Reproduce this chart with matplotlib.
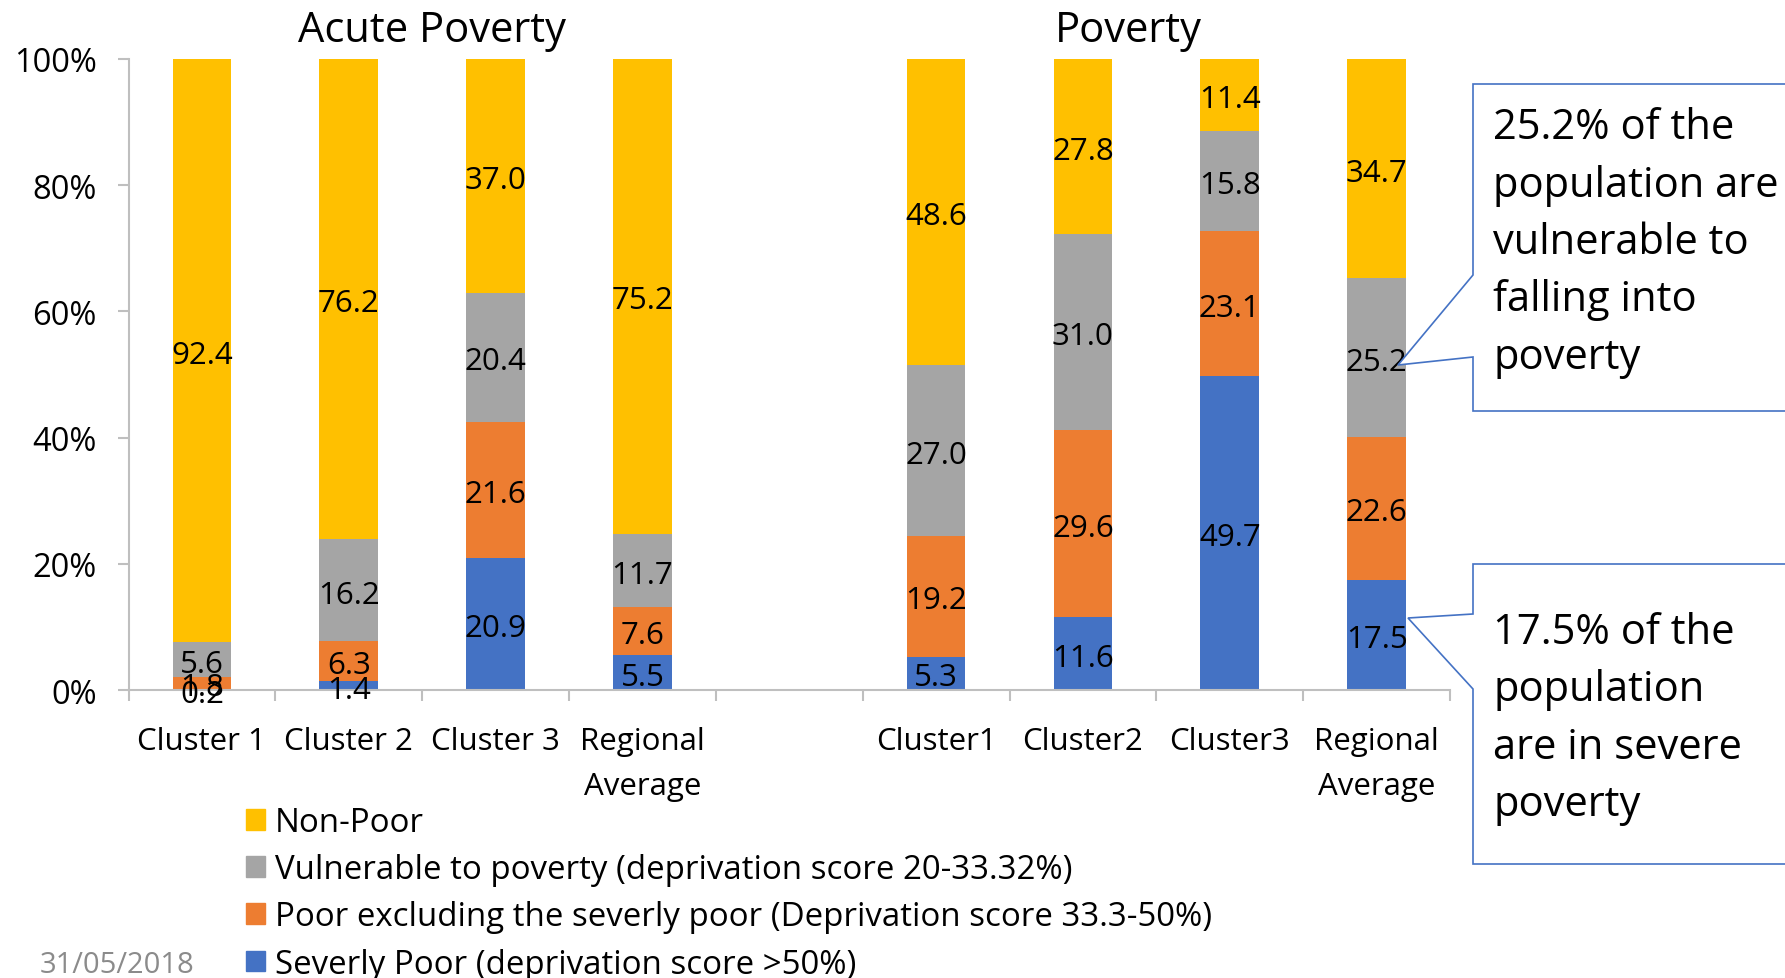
import numpy as np
import matplotlib
matplotlib.use('Agg')
import matplotlib.pyplot as plt
from matplotlib.patches import Patch, Polygon
from matplotlib.ticker import PercentFormatter, FixedLocator

plt.rcParams['font.family'] = ['Open Sans', 'DejaVu Sans']

# data (percent of population)
acute_labels = ['Cluster 1', 'Cluster 2', 'Cluster 3', 'Regional\nAverage']
poverty_labels = ['Cluster1', 'Cluster2', 'Cluster3', 'Regional\nAverage']

severe_acute = [0.2, 1.4, 20.9, 5.5]
poor_acute = [1.8, 6.3, 21.6, 7.6]
vuln_acute = [5.6, 16.2, 20.4, 11.7]
nonpoor_acute = [92.4, 76.2, 37.0, 75.2]

severe_pov = [5.3, 11.6, 49.7, 17.5]
poor_pov = [19.2, 29.6, 23.1, 22.6]
vuln_pov = [27.0, 31.0, 15.8, 25.2]
nonpoor_pov = [48.6, 27.8, 11.4, 34.7]

series_names = ['Severly Poor (deprivation score >50%)',
                'Poor excluding the severly poor (Deprivation score 33.3-50%)',
                'Vulnerable to poverty (deprivation score 20-33.32%)',
                'Non-Poor']
colors = ['#4472C4', '#ED7D31', '#A5A5A5', '#FFC000']

W, H = 1785, 979
fig = plt.figure(figsize=(W / 100, H / 100), dpi=100)
ax = fig.add_axes([128.5 / W, 1 - 691 / H, 1321.5 / W, 631 / H])

# 9 slots: 4 acute, one empty gap, 4 poverty
x_acute = np.arange(4)
x_pov = np.arange(4) + 5
xs = np.concatenate([x_acute, x_pov])
stack = np.array([severe_acute + severe_pov,
                  poor_acute + poor_pov,
                  vuln_acute + vuln_pov,
                  nonpoor_acute + nonpoor_pov])
share = stack / stack.sum(axis=0)

bottom = np.zeros(len(xs))
for i in range(4):
    ax.bar(xs, share[i], 0.4, bottom=bottom, color=colors[i], linewidth=0)
    for x, b, h, v in zip(xs, bottom, share[i], stack[i]):
        ax.annotate(f'{v:.1f}', (x, b + h / 2), xytext=(0, -3),
                    textcoords='offset points', ha='center', va='center',
                    fontsize=22.5, color='black')
    bottom += share[i]

ax.set_xlim(-0.5, 8.5)
ax.set_ylim(0, 1)
ax.yaxis.set_major_formatter(PercentFormatter(1.0, decimals=0))
ax.set_yticks(np.linspace(0, 1, 6))
ax.set_xticks(xs)
ax.set_xticklabels(acute_labels + poverty_labels, linespacing=1.65)
ax.xaxis.set_minor_locator(FixedLocator(np.arange(-0.5, 9, 1)))
ax.tick_params(axis='x', which='major', length=0, pad=26, labelsize=22.5)
ax.tick_params(axis='x', which='minor', length=8, width=1.5, color='#BFBFBF',
               direction='out')
ax.tick_params(axis='y', length=8, width=1.5, color='#BFBFBF', pad=15,
               labelsize=23.5)
for s in ['top', 'right']:
    ax.spines[s].set_visible(False)
for s in ['left', 'bottom']:
    ax.spines[s].set_color('#BFBFBF')
    ax.spines[s].set_linewidth(1.5)


def fp(x, y):
    return (x / W, 1 - y / H)


fig.text(*fp(432, 31), 'Acute Poverty', ha='center', va='center', fontsize=30)
fig.text(*fp(1128, 31), 'Poverty', ha='center', va='center', fontsize=30)

# callouts
box1 = [(1473, 85), (1800, 85), (1800, 412), (1473, 412), (1473, 358),
        (1398, 366), (1473, 276)]
box2 = [(1473, 565), (1800, 565), (1800, 865), (1473, 865), (1473, 690),
        (1408, 619), (1473, 615)]
for pts in [box1, box2]:
    fig.patches.append(Polygon([fp(*p) for p in pts], closed=True,
                               transform=fig.transFigure, facecolor='white',
                               edgecolor='#4472C4', linewidth=1.2))
fig.text(*fp(1493, 243), '25.2% of the\npopulation are\nvulnerable to\nfalling into\npoverty',
         ha='left', va='center', fontsize=30, linespacing=1.48)
fig.text(*fp(1493, 719), '17.5% of the\npopulation\nare in severe\npoverty',
         ha='left', va='center', fontsize=30, linespacing=1.48)

handles = [Patch(color=colors[i], label=series_names[i]) for i in [3, 2, 1, 0]]
fig.legend(handles=handles, loc='upper left', bbox_to_anchor=fp(246, 807),
           frameon=False, fontsize=23.8, handlelength=0.58, handleheight=0.58,
           handletextpad=0.3, labelspacing=0.43, borderpad=0, borderaxespad=0)

fig.text(*fp(40, 966), '31/05/2018', ha='left', va='center', fontsize=21,
         color='#8B8B8B')

fig.savefig('out.png', dpi=100)
